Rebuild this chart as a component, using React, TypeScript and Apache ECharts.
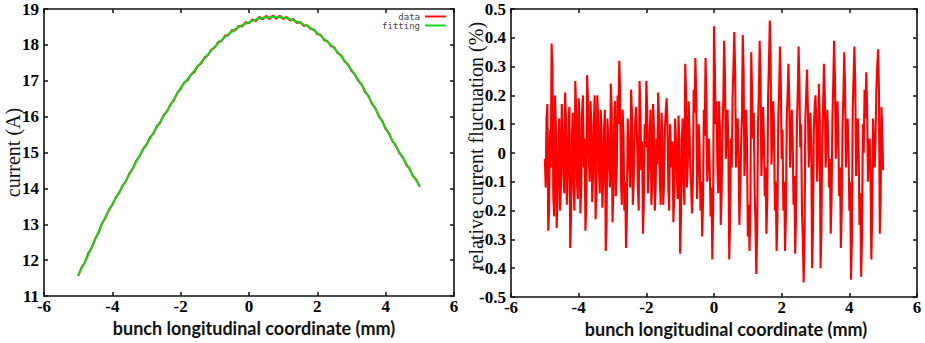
import React, { useEffect, useRef } from "react";
import * as echarts from "echarts";

// ---- Left panel: bunch current profile (A) ----
// measured data, x from -5 to 5 mm, step 0.1 mm
const currentStart = -5;
const currentStep = 0.1;
const currentData = [
  11.56, 11.8, 11.94, 12.2, 12.35, 12.6, 12.76, 13.03, 13.18, 13.41,
  13.54, 13.75, 13.87, 14.08, 14.2, 14.42, 14.55, 14.77, 14.89, 15.1,
  15.21, 15.42, 15.52, 15.73, 15.83, 16.04, 16.14, 16.34, 16.45, 16.66,
  16.77, 16.95, 17.01, 17.17, 17.24, 17.41, 17.48, 17.65, 17.71, 17.87,
  17.93, 18.08, 18.11, 18.26, 18.27, 18.41, 18.4, 18.53, 18.51, 18.63,
  18.6, 18.71, 18.66, 18.78, 18.71, 18.81, 18.72, 18.82, 18.73, 18.81,
  18.72, 18.78, 18.68, 18.72, 18.61, 18.64, 18.53, 18.55, 18.45, 18.43,
  18.3, 18.28, 18.13, 18.1, 17.96, 17.93, 17.76, 17.71, 17.53, 17.46,
  17.27, 17.18, 16.99, 16.9, 16.68, 16.58, 16.35, 16.24, 16.0, 15.89,
  15.65, 15.54, 15.31, 15.2, 14.98, 14.88, 14.66, 14.56, 14.34, 14.24,
  14.04,
];
// fitted curve, x from -5 to 5 mm, step 0.25 mm
const fitStart = -5;
const fitStep = 0.25;
const fittingData = [
  11.58, 12.05, 12.58, 13.11, 13.56, 13.97, 14.39, 14.83, 15.23, 15.62,
  16.01, 16.4, 16.8, 17.1, 17.4, 17.68, 17.95, 18.18, 18.37, 18.52,
  18.63, 18.72, 18.77, 18.78, 18.76, 18.7, 18.61, 18.5, 18.33, 18.12,
  17.9, 17.62, 17.3, 16.95, 16.55, 16.12, 15.68, 15.25, 14.85, 14.45,
  14.05,
];

// ---- Right panel: relative current fluctuation (%) ----
// x from -5 to 5 mm, step 0.025 mm
const flucStart = -5;
const flucStep = 0.025;
const fluctuationData = [
  -0.02, -0.12, 0.12, 0.17, -0.27, -0.2, 0.08, -0.05, 0.38, 0.3, -0.15, -0.22, 0.2, 0.1, -0.26, -0.16, 0.05, 0.12, -0.2, -0.12,
  0.17, 0.08, -0.08, -0.14, 0.21, 0.12, -0.18, -0.08, 0.1, 0.16, -0.33, -0.22, 0.06, 0.14, -0.12, -0.2, 0.25, 0.16, -0.1, -0.16,
  0.19, 0.12, -0.21, -0.12, 0.14, 0.2, -0.05, 0.05, -0.27, -0.18, 0.27, 0.18, -0.02, -0.1, 0.18, 0.1, -0.17, -0.08, 0.12, 0.2,
  -0.23, -0.14, 0.2, 0.12, -0.06, -0.14, 0.15, 0.08, -0.19, -0.1, 0.08, 0.15, -0.34, -0.24, 0.12, 0.05, -0.05, -0.12, 0.24, 0.16,
  -0.24, -0.14, 0.1, 0.18, -0.15, -0.06, 0.2, 0.1, 0.32, 0.22, -0.1, -0.18, 0.15, 0.06, -0.2, -0.1, -0.33, -0.22, 0.12, 0.04,
  -0.05, -0.12, 0.22, 0.14, -0.18, -0.1, 0.05, 0.12, 0.16, 0.06, -0.12, -0.2, 0.25, 0.15, -0.06, 0.04, -0.28, -0.18, 0.1, 0.02,
  0.25, 0.16, -0.14, -0.06, 0.08, 0.15, -0.18, -0.1, 0.17, 0.08, -0.2, -0.12, 0.05, -0.04, 0.21, 0.12, -0.1, -0.18, 0.14, 0.05,
  -0.18, -0.1, 0.08, 0.15, 0.19, 0.1, -0.12, -0.2, 0.1, 0.02, -0.05, 0.04, -0.24, -0.15, 0.12, 0.05, -0.08, -0.16, 0.13, 0.05,
  -0.35, -0.22, 0.05, 0.12, -0.1, -0.18, 0.31, 0.2, -0.12, -0.04, 0.18, 0.08, -0.05, -0.12, -0.21, -0.1, 0.22, 0.14, 0.33, 0.2,
  -0.16, -0.06, 0.1, 0.02, -0.2, -0.1, -0.29, -0.18, 0.15, 0.06, 0.33, 0.2, -0.1, -0.02, 0.05, -0.06, -0.22, -0.12, -0.37, -0.2,
  0.44, 0.3, 0.1, 0.18, -0.05, -0.14, 0.18, 0.08, -0.25, -0.15, 0.08, 0.18, 0.39, 0.26, -0.02, 0.08, 0.15, 0.02, -0.37, -0.24,
  0.05, -0.05, 0.2, 0.3, 0.42, 0.28, -0.05, 0.05, 0.12, 0.0, -0.25, -0.14, 0.02, 0.12, 0.41, 0.28, -0.08, 0.02, 0.15, 0.04,
  -0.29, -0.18, -0.34, -0.2, 0.35, 0.22, 0.05, 0.14, -0.12, -0.24, -0.42, -0.28, 0.1, 0.2, 0.39, 0.26, -0.08, 0.02, 0.16, 0.05,
  -0.15, -0.05, -0.28, -0.16, 0.2, 0.32, 0.46, 0.3, -0.04, 0.06, 0.18, 0.08, -0.2, -0.1, -0.34, -0.22, 0.12, 0.22, 0.37, 0.24,
  -0.02, 0.08, -0.2, -0.1, -0.34, -0.22, 0.12, 0.2, 0.31, 0.18, -0.05, 0.05, 0.15, 0.04, -0.18, -0.08, -0.35, -0.22, 0.1, 0.2,
  0.37, 0.24, 0.02, 0.1, -0.2, -0.3, -0.45, -0.3, 0.12, 0.2, 0.29, 0.16, -0.05, 0.05, 0.14, 0.02, -0.4, -0.26, 0.08, 0.16,
  0.2, 0.1, -0.1, 0.0, 0.24, 0.12, -0.4, -0.26, 0.05, 0.16, 0.31, 0.2, -0.05, 0.05, 0.15, 0.05, -0.12, -0.02, -0.28, -0.16,
  0.12, 0.24, 0.39, 0.26, -0.02, 0.08, 0.18, 0.06, -0.15, -0.05, -0.33, -0.2, 0.1, 0.2, 0.35, 0.22, -0.05, 0.05, 0.12, 0.02,
  -0.2, -0.1, -0.44, -0.3, 0.15, 0.26, 0.37, 0.24, -0.08, 0.02, 0.12, 0.02, -0.25, -0.14, -0.43, -0.28, 0.1, 0.0, 0.22, 0.12,
  0.28, 0.16, -0.1, -0.02, 0.05, -0.06, -0.37, -0.22, 0.12, 0.02, -0.05, 0.06, 0.22, 0.3, 0.36, 0.22, -0.28, -0.16, 0.16, 0.06,
  -0.06,
];

const xTickMin = -6;
const xTickMax = 6;
const xTickStep = 2;
const currentTicks = { min: 11, max: 19, step: 1 };
const flucTicks = { min: -0.5, max: 0.5, step: 0.1 };

const xTitle = "bunch longitudinal coordinate (mm)";
const leftYTitle = "current (A)";
const rightYTitle = "relative current fluctuation (%)";

const toPairs = (vals: number[], start: number, step: number) =>
  vals.map((v, i) => [+(start + i * step).toFixed(4), v]);

const AX = "#111111";
const TICK_FONT = "Liberation Serif";
const fmtTick = (v: number) => String(Math.round(v * 10) / 10);

function buildOption() {
  const axisLine = () => ({ show: true, onZero: false, lineStyle: { color: AX, width: 1.6 } });
  const axisTick = () => ({ show: true, inside: true, length: 4, lineStyle: { color: AX, width: 1.5 } });
  const label = (margin: number) => ({
    show: true,
    margin,
    color: "#000000",
    fontFamily: TICK_FONT,
    fontWeight: "bold",
    fontSize: 17,
    formatter: fmtTick,
    hideOverlap: false,
  });

  const xBottom = (grid: number, padLeft: number) => ({
    type: "value",
    gridIndex: grid,
    position: "bottom",
    min: xTickMin,
    max: xTickMax,
    interval: xTickStep,
    axisLine: axisLine(),
    axisTick: axisTick(),
    splitLine: { show: false },
    axisLabel: label(2),
    name: xTitle,
    nameLocation: "middle",
    nameGap: 23,
    nameMoveOverlap: false,
    nameTextStyle: {
      fontFamily: "Lato",
      fontWeight: "bold",
      fontSize: 18,
      color: "#111",
      padding: [0, 0, 0, padLeft],
    },
  });
  const xTop = (grid: number) => ({
    type: "value",
    gridIndex: grid,
    position: "top",
    min: xTickMin,
    max: xTickMax,
    interval: xTickStep,
    axisLine: axisLine(),
    axisTick: axisTick(),
    splitLine: { show: false },
    axisLabel: { show: false },
  });
  const yLeft = (
    grid: number,
    t: { min: number; max: number; step: number },
    name: string,
    gap: number,
    pad: number[]
  ) => ({
    type: "value",
    gridIndex: grid,
    position: "left",
    min: t.min,
    max: t.max,
    interval: t.step,
    axisLine: axisLine(),
    axisTick: axisTick(),
    splitLine: { show: false },
    axisLabel: label(5),
    name,
    nameLocation: "middle",
    nameGap: gap,
    nameMoveOverlap: false,
    nameTextStyle: { fontFamily: "Liberation Serif", fontSize: 20, color: "#111", padding: pad },
  });
  const yRight = (grid: number, t: { min: number; max: number; step: number }) => ({
    type: "value",
    gridIndex: grid,
    position: "right",
    min: t.min,
    max: t.max,
    interval: t.step,
    axisLine: axisLine(),
    axisTick: axisTick(),
    splitLine: { show: false },
    axisLabel: { show: false },
  });

  return {
    animation: false,
    backgroundColor: "#ffffff",
    grid: [
      { left: 44, top: 9, width: 410, height: 287 },
      { left: 511, top: 9, width: 406, height: 288 },
    ],
    legend: {
      data: ["data", "fitting"],
      orient: "vertical",
      right: 479,
      top: 12,
      align: "right",
      icon: "rect",
      itemWidth: 21,
      itemHeight: 2,
      itemGap: 0,
      padding: 0,
      textStyle: { fontFamily: "DejaVu Sans Mono", fontSize: 9, lineHeight: 9, color: "#444" },
    },
    xAxis: [xBottom(0, 10), xTop(0), xBottom(1, 24), xTop(1)],
    yAxis: [
      yLeft(0, currentTicks, leftYTitle, 21, [0, 0, 0, 0]),
      yRight(0, currentTicks),
      yLeft(1, flucTicks, rightYTitle, 25, [0, 0, 0, 14]),
      yRight(1, flucTicks),
    ],
    series: [
      {
        name: "data",
        type: "line",
        xAxisIndex: 0,
        yAxisIndex: 0,
        data: toPairs(currentData, currentStart, currentStep),
        showSymbol: false,
        lineStyle: { color: "#ff1010", width: 2 },
        itemStyle: { color: "#ff1010" },
      },
      {
        name: "fitting",
        type: "line",
        xAxisIndex: 0,
        yAxisIndex: 0,
        smooth: true,
        data: toPairs(fittingData, fitStart, fitStep),
        showSymbol: false,
        lineStyle: { color: "#16d616", width: 2 },
        itemStyle: { color: "#16d616" },
      },
      {
        name: "fluctuation",
        type: "line",
        xAxisIndex: 2,
        yAxisIndex: 2,
        data: toPairs(fluctuationData, flucStart, flucStep),
        showSymbol: false,
        lineStyle: { color: "#ff0000", width: 2.1 },
        itemStyle: { color: "#ff0000" },
      },
    ],
  };
}

export default function App() {
  const ref = useRef<HTMLDivElement | null>(null);
  useEffect(() => {
    document.body.style.margin = "0";
    if (!ref.current) return;
    const chart = echarts.init(ref.current, null, { renderer: "svg" });
    chart.setOption(buildOption() as any);
    return () => chart.dispose();
  }, []);
  return <div ref={ref} style={{ width: 925, height: 343 }} />;
}
